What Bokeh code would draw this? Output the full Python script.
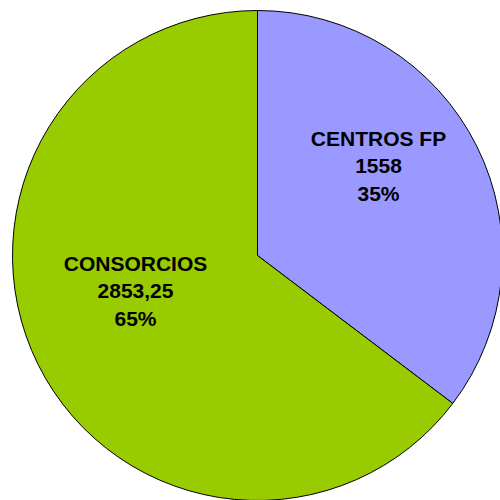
import math
from bokeh.plotting import figure
from bokeh.models import Range1d, ColumnDataSource
from bokeh.core.properties import value
from bokeh.embed import file_html
from bokeh.resources import INLINE

# ---- data ----
categories = ["CENTROS FP", "CONSORCIOS"]
values = [1558, 2853.25]
value_labels = ["1558", "2853,25"]
colors = ["#9999FF", "#99CC00"]

# ---- layout ----
W, H = 500, 500
R = 245
cx_px, cy_px = 257, 255  # pie centre in figure pixels
p = figure(width=W, height=H, output_backend="svg", toolbar_location=None,
           x_range=Range1d(-cx_px, W - cx_px), y_range=Range1d(-(H - cy_px), cy_px),
           min_border=0, outline_line_color=None)
p.axis.visible = False
p.grid.visible = False

total = sum(values)
fracs = [v / total for v in values]
# clockwise from 12 o'clock
starts, ends = [], []
a = math.pi / 2
for f in fracs:
    end = a
    start = a - f * 2 * math.pi
    starts.append(start)
    ends.append(end)
    a = start

src = ColumnDataSource(dict(start=starts, end=ends, color=colors))
p.wedge(x=0, y=0, radius=R, start_angle="start", end_angle="end", color="color",
        line_color="black", line_width=1, source=src)

# label anchor points (layout, relative to pie centre, in px)
label_pos = [(121, 90), (-122, -35)]
pct = [f"{round(f * 100)}%" for f in fracs]
for (lx, ly), cat, vl, pc in zip(label_pos, categories, value_labels, pct):
    for i, t in enumerate([cat, vl, pc]):
        p.text(x=[lx], y=[ly], text=[t], text_align="center", text_baseline="middle",
               y_offset=(i - 1) * 27.5, text_font=value("Liberation Sans"),
               text_font_style="bold", text_font_size="21px", text_color="black")

open("out.html", "w").write(file_html(p, INLINE))
